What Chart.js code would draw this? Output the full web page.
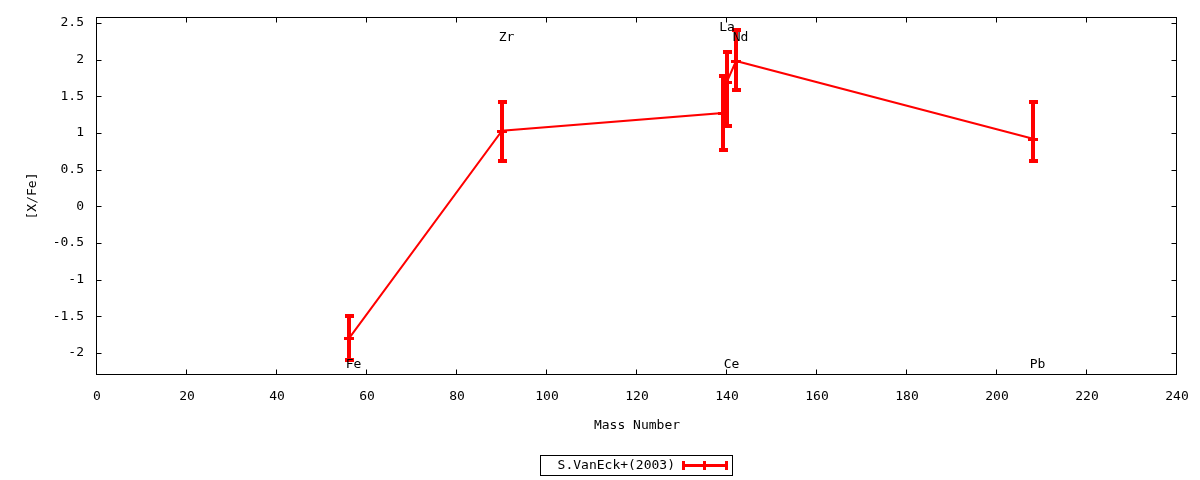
<!DOCTYPE html>
<html><head><meta charset="utf-8">
<script src="https://cdn.jsdelivr.net/npm/chart.js@4"></script>
<style>html,body{margin:0;padding:0;background:#fff}</style>
</head><body>
<canvas id="c" width="1200" height="480"></canvas>
<script>
// ---- data ----
const elementNames = ['Fe', 'Zr', 'La', 'Ce', 'Nd', 'Pb'];
const massNumbers  = [56, 90, 139, 140, 142, 208];
const abundances   = [-1.80, 1.03, 1.27, 1.70, 1.98, 0.92];
const errLow       = [-2.10, 0.62, 0.77, 1.10, 1.59, 0.62];
const errHigh      = [-1.50, 1.42, 1.77, 2.10, 2.40, 1.42];
// element label anchor points (data coordinates)
const labelX = [57, 91, 140, 141, 143, 209];
const labelY = [-2.16, 2.30, 2.44, -2.16, 2.30, -2.16];
const xTicks = [0, 20, 40, 60, 80, 100, 120, 140, 160, 180, 200, 220, 240];
const yTicks = [-2, -1.5, -1, -0.5, 0, 0.5, 1, 1.5, 2, 2.5];
const seriesLabel = 'S.VanEck+(2003)';

const FONT = "13px 'DejaVu Sans Mono', monospace";
const RED = '#ff0000';

const gnuplotDecor = {
  id: 'gnuplotDecor',
  afterDatasetsDraw(chart) {
    const ctx = chart.ctx, xs = chart.scales.x, ys = chart.scales.y;
    const a = chart.chartArea;
    ctx.save();
    // error bars
    ctx.fillStyle = RED;
    massNumbers.forEach((m, i) => {
      const px = Math.round(xs.getPixelForValue(m));
      const top = Math.round(ys.getPixelForValue(errHigh[i]));
      const bot = Math.round(ys.getPixelForValue(errLow[i]));
      const py = Math.round(ys.getPixelForValue(abundances[i]));
      ctx.fillRect(px - 2, top, 4, bot - top);
      ctx.fillRect(px - 4, top - 2, 9, 4);
      ctx.fillRect(px - 4, bot - 2, 9, 4);
      ctx.fillRect(px - 5, py - 1, 10, 3);
    });
    // frame
    const L = Math.round(a.left) - 0.5, R = Math.round(a.right) - 0.5;
    const T = Math.round(a.top) + 0.5, B = Math.round(a.bottom) - 0.5;
    ctx.strokeStyle = '#000';
    ctx.lineWidth = 1;
    ctx.strokeRect(L, T, R - L, B - T);
    // inward ticks (mirrored)
    const tl = 5;
    ctx.beginPath();
    xTicks.forEach(v => {
      const p = Math.round(xs.getPixelForValue(v)) - 0.5;
      ctx.moveTo(p, B); ctx.lineTo(p, B - tl);
      ctx.moveTo(p, T); ctx.lineTo(p, T + tl);
    });
    yTicks.forEach(v => {
      const p = Math.round(ys.getPixelForValue(v)) + 0.5;
      ctx.moveTo(L, p); ctx.lineTo(L + tl, p);
      ctx.moveTo(R, p); ctx.lineTo(R - tl, p);
    });
    ctx.stroke();
    // element labels
    ctx.fillStyle = '#000';
    ctx.font = FONT;
    ctx.textAlign = 'center';
    ctx.textBaseline = 'middle';
    elementNames.forEach((n, i) => {
      ctx.fillText(n, xs.getPixelForValue(labelX[i]), ys.getPixelForValue(labelY[i]));
    });
    // legend (key)
    ctx.strokeRect(540.5, 455.5, 192, 20);
    ctx.textAlign = 'right';
    ctx.fillText(seriesLabel, 675, 466);
    ctx.fillStyle = RED;
    ctx.fillRect(683, 464, 44, 3);
    ctx.fillRect(682, 461, 3, 9);
    ctx.fillRect(725, 461, 3, 9);
    ctx.fillRect(703, 461, 3, 9);
    ctx.restore();
  }
};

function noPad(s) { s.paddingTop = 0; s.paddingBottom = 0; s.paddingLeft = 0; s.paddingRight = 0; }

Chart.defaults.font.family = "'DejaVu Sans Mono', monospace";
Chart.defaults.font.size = 13;
Chart.defaults.color = '#000';

new Chart(document.getElementById('c'), {
  type: 'scatter',
  data: {
    datasets: [{
      label: seriesLabel,
      data: massNumbers.map((m, i) => ({ x: m, y: abundances[i] })),
      showLine: true,
      borderColor: RED,
      backgroundColor: RED,
      borderWidth: 2,
      pointRadius: 0,
      fill: false,
      tension: 0
    }]
  },
  options: {
    responsive: false,
    animation: false,
    devicePixelRatio: 1,
    layout: { padding: { top: 17, right: 23, left: 0, bottom: 0 } },
    plugins: { legend: { display: false }, tooltip: { enabled: false } },
    scales: {
      x: {
        type: 'linear', min: 0, max: 240,
        afterBuildTicks: s => { s.ticks = xTicks.map(v => ({ value: v })); },
        afterFit: s => { s.height = 105; noPad(s); },
        grid: { display: false, drawTicks: false },
        border: { display: false },
        ticks: { padding: 14, maxRotation: 0, autoSkip: false, callback: v => String(v) },
        title: { display: true, text: 'Mass Number', padding: { top: 0, bottom: 47 } }
      },
      y: {
        type: 'linear', min: -2.3, max: 2.58,
        afterBuildTicks: s => { s.ticks = yTicks.map(v => ({ value: v })); },
        afterFit: s => { s.width = 97; noPad(s); },
        grid: { display: false, drawTicks: false },
        border: { display: false },
        ticks: { padding: 13, autoSkip: false, callback: v => String(v) },
        title: { display: true, text: '[X/Fe]', padding: { top: 25, bottom: 0 } }
      }
    }
  },
  plugins: [gnuplotDecor]
});
</script>
</body></html>
